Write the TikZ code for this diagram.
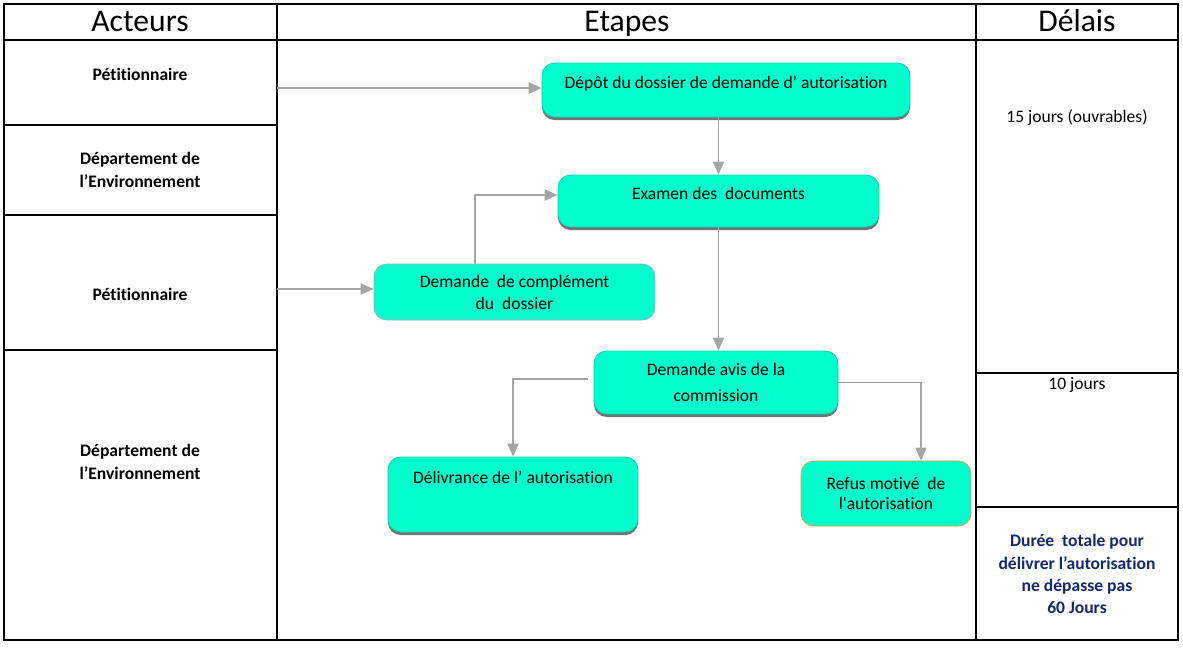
\documentclass[tikz,border=0pt]{standalone}
\usepackage{fontspec}
\setmainfont{Carlito}[RawFeature=-liga]
\usetikzlibrary{arrows.meta, positioning, shadows}
\definecolor{boxfill}{RGB}{0,255,204}
\definecolor{linkgray}{RGB}{165,165,165}
\definecolor{navytext}{RGB}{20,40,110}
\definecolor{blueedge}{RGB}{140,180,220}
\definecolor{orangeedge}{RGB}{235,150,70}
\tikzset{
  stepbox/.style={draw=boxfill!80!black, fill=boxfill, rectangle, rounded corners=2.5mm, align=center, font=\fontsize{10}{12.5}\selectfont, inner sep=1mm,
    drop shadow={shadow xshift=0pt, shadow yshift=-0.6mm, fill=black!55, opacity=1}},
  flatbox/.style={draw, fill=boxfill, rectangle, rounded corners=2.5mm, align=center, font=\fontsize{10}{12.5}\selectfont, inner sep=1mm},
  head/.style={font=\fontsize{18}{20}\selectfont, anchor=base},
  actor/.style={font=\fontsize{10}{13}\selectfont\bfseries, align=center},
  delay/.style={font=\fontsize{10}{13}\selectfont, align=center},
  arrow/.style={-{Triangle[length=2.6mm, width=2.2mm]}, line width=1.1pt, draw=linkgray}
}
\begin{document}
\begin{tikzpicture}[x=0.02cm, y=-0.02cm]
\useasboundingbox (0,0) rectangle (1183,647);

% table
\draw[line width=0.6pt] (4,4) rectangle (1178,640);
\draw[line width=0.6pt] (4,40) -- (1178,40);
\draw[line width=0.6pt] (277,4) -- (277,640);
\draw[line width=0.6pt] (976,4) -- (976,640);
\foreach \yy in {125,215,350}
  \draw[line width=0.6pt] (4,\yy) -- (277,\yy);
\foreach \yy in {373,507}
  \draw[line width=0.6pt] (976,\yy) -- (1178,\yy);

\node[head] (hacteurs) at (140,31) {Acteurs};
\node[head] (hetapes) at (627,31) {Etapes};
\node[head] (hdelais) at (1077,31) {Délais};

\node[actor] (pet1) at (140,74) {Pétitionnaire};
\node[actor] (dep1) at (140,170) {Département de\\l’Environnement};
\node[actor] (pet2) at (140,294) {Pétitionnaire};
\node[actor] (dep2) at (140,462) {Département de\\l’Environnement};

\node[delay] (d15) at (1077,118) {15 jours (ouvrables)};
\node[delay] (d10) at (1077,385) {10 jours};
\node[delay, font=\fontsize{10}{12.6}\selectfont\bfseries, text=navytext] (dtot) at (1077,574) {Durée \ totale pour\\délivrer l’autorisation\\ne dépasse pas\\60 Jours};

% steps
\node[stepbox, minimum width=7.36cm, minimum height=1.08cm] (depot) at (726,90) {Dépôt du dossier de demande d’ autorisation\\[-3.5pt]};
\node[stepbox, minimum width=6.42cm, minimum height=1.04cm] (examen) at (718.5,201) {Examen des \ documents\\[-3.5pt]};
\node[flatbox, draw=blueedge, minimum width=5.62cm, minimum height=1.12cm] (complement) at (514.5,292) {Demande \ de complément\\du \ dossier\hspace{1em}};
\node[stepbox, minimum width=4.88cm, minimum height=1.26cm] (avis) at (716,382.5) {Demande avis de la\\[0.8mm]commission};
\node[stepbox, minimum width=5cm, minimum height=1.5cm] (delivrance) at (513,494.5) {Délivrance de l’ autorisation\\[7.5pt]};
\node[flatbox, draw=orangeedge, minimum width=3.4cm, minimum height=1.3cm, font=\fontsize{10}{11}\selectfont] (refus) at (886,493.5) {Refus motivé \ de\\l\textquotesingle autorisation};

\coordinate (in1) at (277,88);
\coordinate (in2) at (277,289);

\draw[arrow] (in1) -- (in1 -| depot.west);
\draw[arrow] (examen.north |- depot.south) -- (examen.north);
\draw[arrow] (examen.south) -- (examen.south |- avis.north);
\draw[arrow] (in2) -- (in2 -| complement.west);
\draw[arrow] ([xshift=-0.79cm]complement.north) |- ([yshift=1.2mm]examen.west);
\draw[arrow] ([xshift=-1.2mm,yshift=0.7mm]avis.west) -| (delivrance.north);
\draw[arrow] (avis.east) -| ([xshift=0.7cm]refus.north);

\end{tikzpicture}
\end{document}
